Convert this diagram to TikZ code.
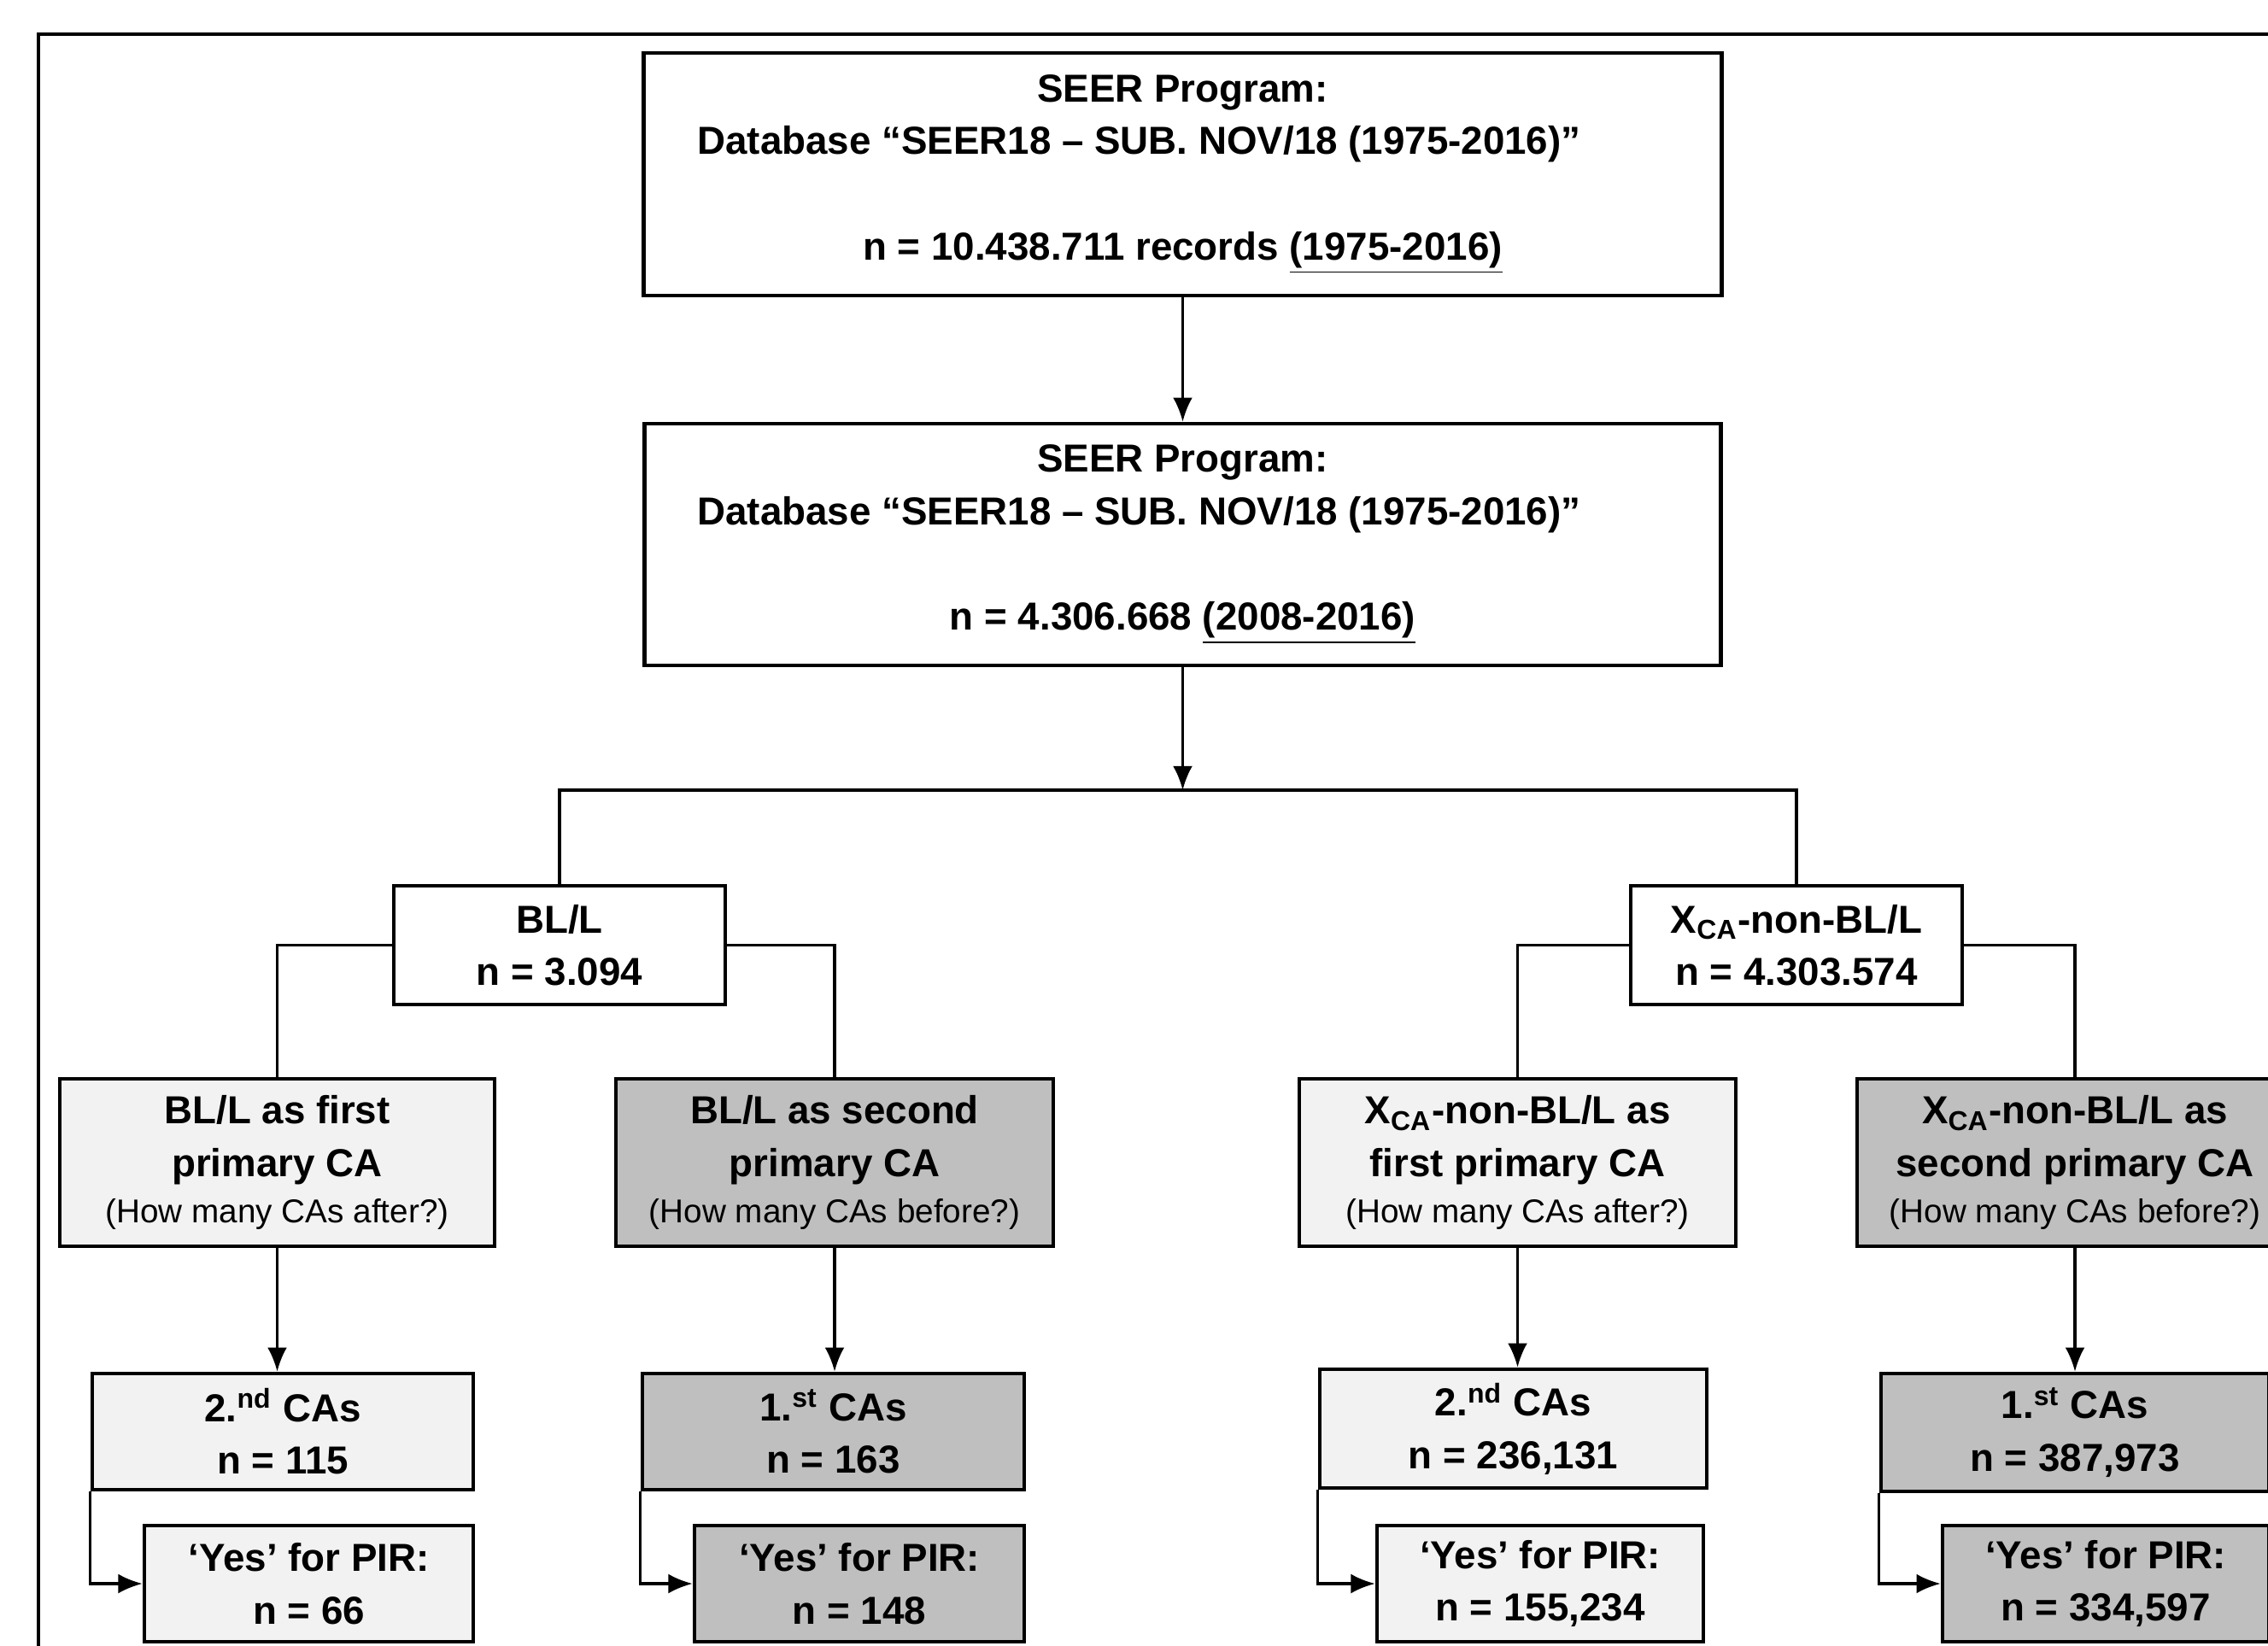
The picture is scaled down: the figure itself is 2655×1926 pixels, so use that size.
\documentclass[tikz,border=0pt]{standalone}
\usepackage{fontspec}
\setmainfont{Liberation Sans}
\usetikzlibrary{arrows.meta}
\definecolor{lightbox}{RGB}{242,242,242}
\definecolor{darkbox}{RGB}{191,191,191}
\newcommand{\paren}[1]{{\fontsize{11}{13}\selectfont\mdseries #1}}
\newcommand{\dbline}{\mbox{Database “SEER18 – SUB. NOV/18 (1975-2016)”\kern 29pt}}
\begin{document}
\begin{tikzpicture}[x=0.01cm,y=-0.01cm,
  box/.style={draw=black, line width=1.3pt, align=center, inner sep=0pt,
    font=\fontsize{13}{17.5}\selectfont\bfseries},
  lbox/.style={box, fill=lightbox},
  dbox/.style={box, fill=darkbox},
  conn/.style={line width=0.9pt},
  arr/.style={conn, -{Latex[length=8pt,width=6.5pt]}}]
\useasboundingbox (0,0) rectangle (2655,1926);
\fill[white] (0,0) rectangle (2655,1926);
\clip (0,0) rectangle (2655,1926);
% outer frame (only left and top visible)
\draw[line width=1pt] (45,1960) -- (45,40) -- (2700,40);

% level 1-2
\node[box, minimum width=12.61cm, minimum height=2.84cm] (seer1) at (1384.5,204)
  {SEER Program:\\ \dbline\\ \mbox{}\\ n = 10.438.711 records \underline{(1975-2016)}};
\node[box, minimum width=12.59cm, minimum height=2.83cm] (seer2) at (1384.5,637.5)
  {SEER Program:\\ \dbline\\ \mbox{}\\ n = 4.306.668 \underline{(2008-2016)}};
\coordinate (j1) at (1384.5,925);

% level 2b
\node[box, minimum width=3.88cm, minimum height=1.39cm] (bll) at (655,1106.5)
  {BL/L\\ n = 3.094};
\node[box, minimum width=3.88cm, minimum height=1.39cm] (xca) at (2103,1106.5)
  {X\textsubscript{CA}-non-BL/L\\ n = 4.303.574};

% level 3
\node[lbox, minimum width=5.09cm, minimum height=1.96cm] (A) at (324.5,1361)
  {BL/L as first\\ primary CA\\[-2pt] \paren{(How many CAs after?)}};
\node[dbox, minimum width=5.12cm, minimum height=1.96cm] (B) at (977,1361)
  {BL/L as second\\ primary CA\\[-2pt] \paren{(How many CAs before?)}};
\node[lbox, minimum width=5.11cm, minimum height=1.96cm] (C) at (1776.5,1361)
  {X\textsubscript{CA}-non-BL/L as\\ first primary CA\\[-2pt] \paren{(How many CAs after?)}};
\node[dbox, minimum width=5.10cm, minimum height=1.96cm] (D) at (2429,1361)
  {X\textsubscript{CA}-non-BL/L as\\ second primary CA\\[-2pt] \paren{(How many CAs before?)}};

% level 4
\node[lbox, minimum width=4.46cm, minimum height=1.36cm] (A2) at (331,1676)
  {2.\textsuperscript{nd} CAs\\ n = 115};
\node[dbox, minimum width=4.47cm, minimum height=1.36cm] (B2) at (975.5,1676)
  {1.\textsuperscript{st} CAs\\ n = 163};
\node[lbox, minimum width=4.53cm, minimum height=1.39cm] (C2) at (1771.5,1672.5)
  {2.\textsuperscript{nd} CAs\\ n = 236,131};
\node[dbox, minimum width=4.54cm, minimum height=1.38cm] (D2) at (2429,1677)
  {1.\textsuperscript{st} CAs\\ n = 387,973};

% level 5
\node[lbox, minimum width=3.85cm, minimum height=1.36cm] (A3) at (361.5,1854)
  {‘Yes’ for PIR:\\ n = 66};
\node[dbox, minimum width=3.86cm, minimum height=1.36cm] (B3) at (1006,1854)
  {‘Yes’ for PIR:\\ n = 148};
\node[lbox, minimum width=3.82cm, minimum height=1.36cm] (C3) at (1803,1854)
  {‘Yes’ for PIR:\\ n = 155,234};
\node[dbox, minimum width=3.82cm, minimum height=1.36cm] (D3) at (2465,1854)
  {‘Yes’ for PIR:\\ n = 334,597};

% connectors
\draw[arr] (seer1.south) -- (seer2.north);
\draw[arr] (seer2.south) -- (j1);
\draw[conn] (bll.north) |- (j1) -| (xca.north);
\draw[conn] (bll.west) -| (A.north);
\draw[conn] (bll.east) -| (B.north);
\draw[conn] (xca.west) -| (C.north);
\draw[conn] (xca.east) -| (D.north);
\draw[arr] (A.south) -- (A.south |- A2.north);
\draw[arr] (B.south) -- (B.south |- B2.north);
\draw[arr] (C.south) -- (C.south |- C2.north);
\draw[arr] (D.south) -- (D.south |- D2.north);
\draw[arr] (A2.south west) |- (A3.west);
\draw[arr] (B2.south west) |- (B3.west);
\draw[arr] (C2.south west) |- (C3.west);
\draw[arr] (D2.south west) |- (D3.west);
\end{tikzpicture}
\end{document}
